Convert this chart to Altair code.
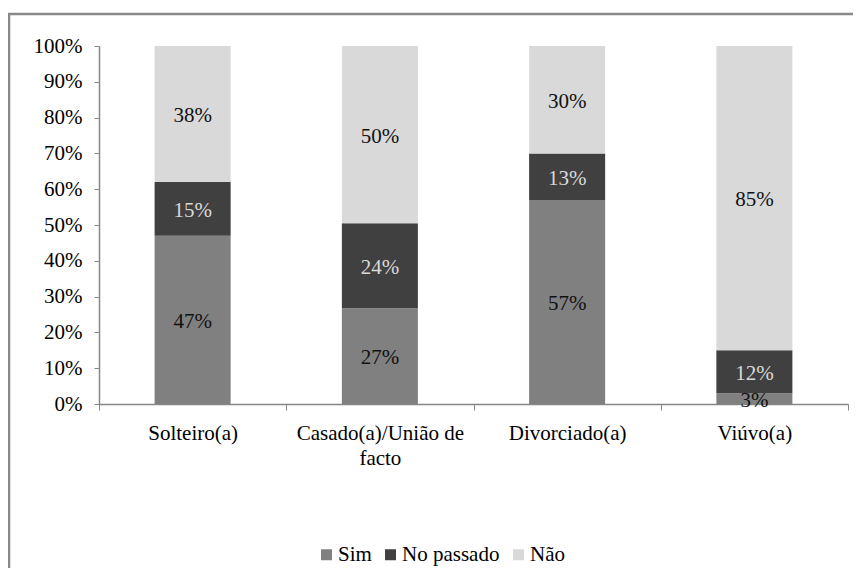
import altair as alt
import pandas as pd

categories = ["Solteiro(a)", "Casado(a)/União de facto", "Divorciado(a)", "Viúvo(a)"]
responses = ["Sim", "No passado", "Não"]
sim = [47, 27, 57, 3]
no_passado = [15, 24, 13, 12]
nao = [38, 50, 30, 85]
colors = ["#808080", "#404040", "#d9d9d9"]
text_colors = ["#111111", "#d9d9d9", "#111111"]
y_ticks = [0.0, 0.1, 0.2, 0.3, 0.4, 0.5, 0.6, 0.7, 0.8, 0.9, 1.0]

rows = []
for series_idx, (resp, vals) in enumerate(zip(responses, [sim, no_passado, nao])):
    for cat, v in zip(categories, vals):
        rows.append({"cat": cat, "resp": resp, "value": v, "ord": series_idx,
                     "tc": text_colors[series_idx], "label": f"{v}%"})
df = pd.DataFrame(rows)

FONT = "Liberation Serif"
FS = 21

base = (
    alt.Chart(df)
    .transform_joinaggregate(total="sum(value)", groupby=["cat"])
    .transform_window(cum="sum(value)", groupby=["cat"],
                      sort=[alt.SortField("ord")], frame=[None, 0])
    .transform_calculate(
        lo="(datum.cum - datum.value) / datum.total",
        hi="datum.cum / datum.total",
        mid="(datum.cum - datum.value / 2) / datum.total",
    )
)

x_axis = alt.Axis(
    labelAngle=0, labelFont=FONT, labelFontSize=FS, labelColor="#000000",
    labelLimit=0, labelPadding=12, labelLineHeight=25,
    labelExpr="datum.value == 'Casado(a)/União de facto' ? ['Casado(a)/União de', 'facto'] : datum.value",
    tickBand="extent", tickSize=6, tickColor="#868686",
    domainColor="#868686", domainWidth=1.5, labelBaseline="top",
)
y_axis = alt.Axis(format="%", values=y_ticks, grid=False, labelOverlap=False,
                  labelFont=FONT, labelFontSize=FS, labelColor="#000000",
                  labelPadding=12, tickSize=5, tickColor="#868686",
                  domainColor="#868686", domainWidth=1.5)
x_scale = alt.Scale(paddingInner=0, paddingOuter=0)
y_scale = alt.Scale(domain=[0, 1], nice=False)

bars = base.mark_bar(width=alt.RelativeBandSize(0.406)).encode(
    x=alt.X("cat:N", sort=categories, title=None, scale=x_scale, axis=x_axis),
    y=alt.Y("lo:Q", scale=y_scale, title=None, axis=y_axis),
    y2="hi:Q",
    color=alt.Color("resp:N", scale=alt.Scale(domain=responses, range=colors),
                    legend=alt.Legend(
                        title=None, orient="none", direction="horizontal",
                        legendX=217, legendY=498, symbolType="square",
                        symbolSize=121, symbolStrokeWidth=0,
                        labelFont=FONT, labelFontSize=FS, labelColor="#000000",
                        labelOffset=1, columnPadding=8, padding=0)),
)

texts = base.mark_text(font=FONT, fontSize=FS, baseline="middle", dy=2).encode(
    x=alt.X("cat:N", sort=categories, title=None, scale=x_scale, axis=x_axis),
    y=alt.Y("mid:Q", scale=y_scale, title=None, axis=y_axis),
    text="label:N",
    color=alt.Color("tc:N", scale=None, legend=None),
)

border = alt.Chart(pd.DataFrame({"k": [0]})).mark_rect(
    filled=False, stroke="#898989", strokeWidth=2.5
).encode(
    x=alt.value(-90), x2=alt.value(900), y=alt.value(-32), y2=alt.value(700)
)

chart = (
    alt.layer(border, bars, texts)
    .properties(
        width=749, height=358,
        autosize=alt.AutoSizeParams(type="none"),
        padding={"left": 91, "top": 38, "right": 5, "bottom": 164},
        background="#ffffff",
    )
    .configure(font=FONT, style={"guide-label": {"font": FONT, "fontSize": FS}})
    .configure_view(strokeWidth=0)
    .configure_legend(labelFont=FONT, labelFontSize=FS, labelColor="#000000",
                      symbolType="square", symbolSize=121, labelOffset=1,
                      columnPadding=8)
)

chart.save("out.html", embed_options={"renderer": "svg", "actions": False})
